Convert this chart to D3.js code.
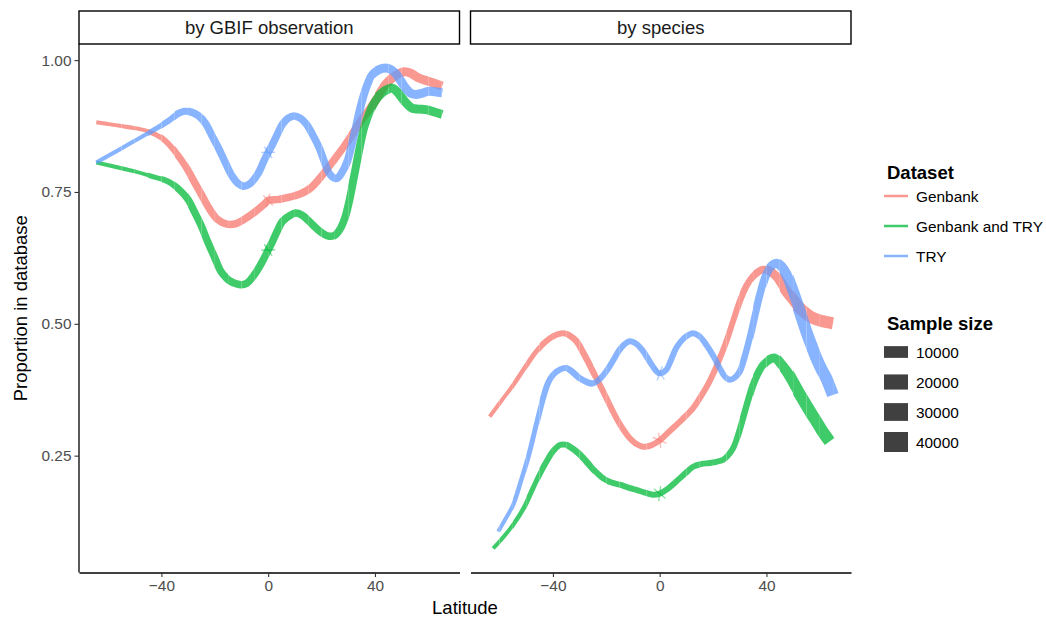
<!DOCTYPE html>
<html>
<head>
<meta charset="utf-8">
<script src="https://cdn.jsdelivr.net/npm/d3@7"></script>
<style>
  body { margin: 0; background: #fff; }
  svg { display: block; font-family: "Liberation Sans", Arial, Helvetica, sans-serif; }
</style>
</head>
<body>
<div id="chart"></div>
<script>
const W = 1046, H = 619;

const panelNames = ["by GBIF observation", "by species"];
const datasets = ["Genbank", "Genbank and TRY", "TRY"];
const colors = ["#F8766D", "#00BA38", "#619CFF"];
const xTicks = [-40, 0, 40];
const yTicks = [0.25, 0.50, 0.75, 1.00];
const sizeBreaks = [10000, 20000, 30000, 40000];

// sample size per 5 degree latitude band (band start)
const binStart = [-70, -65, -60, -55, -50, -45, -40, -35, -30, -25, -20, -15, -10, -5,
                  0, 5, 10, 15, 20, 25, 30, 35, 40, 45, 50, 55, 60, 65];
const gbifN = [50, 50, 50, 50, 40, 330, 900, 1800, 2350, 2350, 2350, 2350, 2350, 2350,
               2350, 2350, 2350, 2350, 2350, 2350, 2975, 2975, 4400, 4400, 4400, 4400, 4400, 4400];
const speciesN = [40, 40, 40, 150, 330, 900, 900, 1300, 1300, 900, 900, 900, 900, 900,
                  900, 900, 900, 900, 900, 900, 1300, 2350, 4400, 7200, 10600, 10600, 10600, 10600];
// very large sample at latitude 0 (the small cross marks)
const spikeN = [16000, 20000];

// by GBIF observation
const gbifGenbankLat = [-64.4, -55, -45, -39, -35, -31.4, -28, -25, -22, -19, -15.5, -12, -9, -5, -1, 0, 4, 8, 12.8, 16, 19, 22, 25.3, 28.5, 31.5, 34.5, 37.8, 41, 44, 47.5, 51, 53.5, 56.4, 60, 65.2];
const gbifGenbankProp = [0.882, 0.875, 0.865, 0.849, 0.827, 0.802, 0.772, 0.745, 0.718, 0.698, 0.689, 0.690, 0.698, 0.712, 0.729, 0.734, 0.736, 0.740, 0.748, 0.758, 0.774, 0.793, 0.815, 0.837, 0.859, 0.883, 0.906, 0.930, 0.954, 0.970, 0.978, 0.975, 0.966, 0.960, 0.951];

const gbifBothLat = [-64.4, -50, -43.9, -37.6, -32.6, -30, -27.7, -25, -22.7, -20, -17.7, -15.5, -13.9, -12, -10.2, -8, -5.2, -2.5, 0, 1.6, 3.5, 5.3, 8, 10.4, 13, 16.6, 20, 22.8, 25, 27.2, 28.8, 30.3, 31.5, 32.8, 34.3, 35.9, 37.5, 39, 40.8, 42.7, 44.5, 46.5, 48.3, 50.2, 52, 53.9, 56.5, 59, 62, 65.2];
const gbifBothProp = [0.806, 0.789, 0.780, 0.770, 0.751, 0.735, 0.713, 0.685, 0.656, 0.625, 0.599, 0.586, 0.580, 0.576, 0.574, 0.577, 0.593, 0.615, 0.640, 0.656, 0.677, 0.694, 0.705, 0.710, 0.705, 0.688, 0.673, 0.666, 0.668, 0.682, 0.702, 0.732, 0.762, 0.796, 0.835, 0.871, 0.895, 0.913, 0.928, 0.938, 0.944, 0.947, 0.940, 0.928, 0.917, 0.909, 0.907, 0.906, 0.902, 0.897];

const gbifTryLat = [-64.4, -37.6, -34, -31.4, -28.5, -26, -23.5, -21, -18.5, -16, -13.5, -11, -9, -7, -4, -1.5, 0, 1.6, 3.5, 5.3, 7.5, 9.7, 12, 14.1, 16.5, 19.1, 21, 22.8, 24.5, 25.9, 27.5, 29.6, 31.2, 32.8, 34.3, 35.9, 37.5, 39, 41.5, 44, 46, 47.7, 49.5, 51.5, 53.5, 55.2, 57.5, 60.2, 62.5, 65.2];
const gbifTryProp = [0.806, 0.884, 0.898, 0.903, 0.901, 0.894, 0.880, 0.856, 0.832, 0.805, 0.780, 0.765, 0.761, 0.765, 0.783, 0.810, 0.825, 0.840, 0.860, 0.878, 0.890, 0.894, 0.890, 0.880, 0.860, 0.834, 0.808, 0.786, 0.777, 0.776, 0.786, 0.808, 0.838, 0.871, 0.905, 0.935, 0.958, 0.973, 0.982, 0.985, 0.982, 0.975, 0.962, 0.947, 0.937, 0.935, 0.937, 0.941, 0.940, 0.938];

// by species
const spGenbankLat = [-63.7, -59, -54.9, -50.5, -46.2, -43, -40, -36.2, -33.5, -31.2, -28.7, -26.2, -23.7, -21.2, -18.7, -16.2, -13.7, -11.2, -8.7, -6.2, -3, 0, 3, 6.2, 9.5, 12.5, 15.5, 18.7, 22, 25, 27.5, 30, 32.5, 34.9, 36.8, 38.7, 41.2, 43.7, 45.5, 47.4, 50, 52.4, 55, 57.4, 61, 64.9];
const spGenbankProp = [0.324, 0.356, 0.384, 0.417, 0.448, 0.465, 0.476, 0.482, 0.477, 0.467, 0.446, 0.422, 0.397, 0.372, 0.346, 0.321, 0.300, 0.283, 0.272, 0.267, 0.270, 0.279, 0.293, 0.308, 0.324, 0.340, 0.363, 0.391, 0.428, 0.467, 0.505, 0.543, 0.572, 0.590, 0.598, 0.603, 0.600, 0.590, 0.577, 0.562, 0.545, 0.530, 0.519, 0.511, 0.505, 0.501];

const spBothLat = [-62.4, -58.5, -54.9, -51, -47.5, -45, -42.4, -40, -37.5, -35.5, -33.7, -30.5, -27.5, -24.5, -21.2, -18, -15, -12, -8.7, -5.5, -2.5, 0, 3, 6.2, 9.5, 12.5, 15.5, 18.7, 21, 23.7, 25.5, 27.5, 29.4, 31.2, 33, 34.9, 36.8, 38.7, 41, 43.1, 45.3, 47.5, 49.3, 51.2, 53, 54.9, 56.8, 58.7, 61, 63.7];
const spBothProp = [0.074, 0.096, 0.119, 0.150, 0.188, 0.215, 0.239, 0.258, 0.270, 0.271, 0.267, 0.255, 0.239, 0.222, 0.207, 0.199, 0.195, 0.190, 0.185, 0.180, 0.176, 0.178, 0.187, 0.201, 0.216, 0.229, 0.234, 0.236, 0.238, 0.242, 0.250, 0.264, 0.290, 0.321, 0.353, 0.384, 0.406, 0.422, 0.432, 0.435, 0.424, 0.410, 0.395, 0.378, 0.362, 0.346, 0.330, 0.315, 0.296, 0.277];

const spTryLat = [-60.5, -58, -54.9, -51.8, -48.7, -46.2, -43.7, -41.8, -40, -37.5, -34.9, -32.5, -30, -27.5, -25, -22.5, -20, -17.5, -15, -13, -11.2, -8.7, -6.2, -3.7, -1.2, 0, 2.5, 4.3, 6.2, 9.4, 12.5, 15, 17.5, 20, 22.5, 24.4, 26.2, 28.1, 30, 31.8, 33.7, 35.6, 37.5, 39.4, 41.2, 43.7, 45.6, 47.5, 49.3, 51.2, 53, 54.9, 56.8, 58.7, 60.5, 62.4, 64.9];
const spTryProp = [0.106, 0.128, 0.157, 0.205, 0.258, 0.310, 0.359, 0.388, 0.403, 0.413, 0.416, 0.408, 0.397, 0.390, 0.387, 0.395, 0.410, 0.430, 0.451, 0.462, 0.467, 0.462, 0.448, 0.428, 0.410, 0.406, 0.413, 0.432, 0.454, 0.474, 0.482, 0.476, 0.460, 0.440, 0.416, 0.400, 0.394, 0.398, 0.410, 0.437, 0.473, 0.515, 0.555, 0.588, 0.606, 0.615, 0.608, 0.593, 0.570, 0.543, 0.515, 0.486, 0.460, 0.435, 0.415, 0.397, 0.365];

const panelSeries = [
  [[gbifGenbankLat, gbifGenbankProp], [gbifBothLat, gbifBothProp], [gbifTryLat, gbifTryProp]],
  [[spGenbankLat, spGenbankProp], [spBothLat, spBothProp], [spTryLat, spTryProp]]
];
const panelN = [gbifN, speciesN];

// layout
const panelX = [79, 470.5];
const panelW = 380.5;
const panelTop = 44, panelBottom = 572.5;
const panelH = panelBottom - panelTop;
const stripTop = 11;
const alpha = 0.75;

const svg = d3.select("#chart").append("svg")
    .attr("width", W)
    .attr("height", H);
svg.append("rect").attr("width", W).attr("height", H).attr("fill", "#fff");

// scales, expanded 5% like ggplot
let allLat = [], allProp = [];
for (let ps of panelSeries) for (let s of ps) { allLat = allLat.concat(s[0]); allProp = allProp.concat(s[1]); }
const latExt = d3.extent(allLat), propExt = d3.extent(allProp);
const latPad = (latExt[1] - latExt[0]) * 0.05, propPad = (propExt[1] - propExt[0]) * 0.05;

const x = d3.scaleLinear().domain([latExt[0] - latPad, latExt[1] + latPad]).range([0, panelW]);
const y = d3.scaleLinear().domain([propExt[0] - propPad, propExt[1] + propPad]).range([panelH, 0]);
const size = d3.scaleSqrt().domain([0, 40000]).range([3.5, 20]);

const line = d3.line().curve(d3.curveCatmullRom.alpha(0.5));
const defs = svg.append("defs");

panelNames.forEach(function (name, p) {
    let g = svg.append("g").attr("transform", "translate(" + panelX[p] + "," + panelTop + ")");

    // one clip band per latitude bin
    binStart.forEach(function (b, i) {
        let x0 = i == 0 ? -40 : x(b);
        let x1 = i == binStart.length - 1 ? panelW + 40 : x(binStart[i + 1]);
        defs.append("clipPath").attr("id", "clip-" + p + "-" + i)
            .append("rect")
            .attr("x", x0).attr("y", -20)
            .attr("width", x1 - x0).attr("height", panelH + 40);
    });

    panelSeries[p].forEach(function (s, k) {
        let pts = s[0].map((lat, i) => [x(lat), y(s[1][i])]);
        let sg = g.append("g").attr("opacity", alpha);
        binStart.forEach(function (b, i) {
            sg.append("path")
                .attr("d", line(pts))
                .attr("fill", "none")
                .attr("stroke", colors[k])
                .attr("stroke-width", size(panelN[p][i]))
                .attr("clip-path", "url(#clip-" + p + "-" + i + ")");
        });

        // cross marks at latitude 0
        let i0 = s[0].indexOf(0);
        if (i0 > 0) {
            let c = pts[i0], a = pts[i0 - 1], b = pts[i0 + 1];
            let theta = Math.atan2(b[1] - a[1], b[0] - a[0]);
            for (let dt of [-0.5, 0.5]) {
                let dx = Math.cos(theta + dt) * 0.7, dy = Math.sin(theta + dt) * 0.7;
                g.append("line")
                    .attr("x1", c[0] - dx).attr("y1", c[1] - dy)
                    .attr("x2", c[0] + dx).attr("y2", c[1] + dy)
                    .attr("stroke", colors[k])
                    .attr("stroke-width", size(spikeN[p]))
                    .attr("opacity", 0.45);
            }
        }
    });

    // strip
    svg.append("rect")
        .attr("x", panelX[p]).attr("y", stripTop)
        .attr("width", panelW).attr("height", panelTop - stripTop)
        .attr("fill", "#fff").attr("stroke", "#000").attr("stroke-width", 1.4);
    svg.append("text")
        .attr("x", panelX[p] + panelW / 2).attr("y", 33.5)
        .attr("text-anchor", "middle")
        .attr("font-size", "18.5px")
        .attr("fill", "#1a1a1a")
        .text(name);

    // x axis
    let xa = g.append("g").attr("transform", "translate(0," + panelH + ")")
        .call(d3.axisBottom(x).tickValues(xTicks).tickFormat(d3.format("d")).tickSize(4.5).tickSizeOuter(0).tickPadding(3));
    styleAxis(xa);

    // y axis only on the first panel
    if (p == 0) {
        let ya = g.append("g")
            .call(d3.axisLeft(y).tickValues(yTicks).tickFormat(d3.format(".2f")).tickSize(4.5).tickSizeOuter(0).tickPadding(3));
        ya.select(".domain").attr("d", "M0,0V" + panelH);
        styleAxis(ya);
    }
});

function styleAxis(a) {
    a.select(".domain").attr("stroke", "#000").attr("stroke-width", 1.3);
    a.selectAll(".tick line").attr("stroke", "#333").attr("stroke-width", 1.1);
    a.selectAll(".tick text")
        .attr("fill", "#4d4d4d")
        .attr("font-size", "15.4px")
        .attr("font-family", "'Liberation Sans', Arial, sans-serif");
}

// axis titles
svg.append("text")
    .attr("transform", "translate(27," + (panelTop + panelH / 2) + ") rotate(-90)")
    .attr("text-anchor", "middle")
    .attr("font-size", "18.5px")
    .text("Proportion in database");
svg.append("text")
    .attr("x", (panelX[0] + panelX[1] + panelW) / 2).attr("y", 614)
    .attr("text-anchor", "middle")
    .attr("font-size", "18.5px")
    .text("Latitude");

// legend: Dataset
const lg = svg.append("g");
lg.append("text").attr("x", 887).attr("y", 179)
    .attr("font-size", "18.5px").attr("font-weight", "bold").text("Dataset");
const keyY = [196, 226, 256];
datasets.forEach(function (d, i) {
    lg.append("line")
        .attr("x1", 884).attr("x2", 908)
        .attr("y1", keyY[i]).attr("y2", keyY[i])
        .attr("stroke", colors[i]).attr("stroke-width", 2.5).attr("opacity", alpha);
    lg.append("text").attr("x", 916).attr("y", keyY[i])
        .attr("dominant-baseline", "central")
        .attr("font-size", "15.4px").text(d);
});

// legend: Sample size
lg.append("text").attr("x", 887).attr("y", 330)
    .attr("font-size", "18.5px").attr("font-weight", "bold").text("Sample size");
const sizeKeyY = [352, 382, 412, 442];
sizeBreaks.forEach(function (n, i) {
    let h = size(n);
    lg.append("rect")
        .attr("x", 884).attr("y", sizeKeyY[i] - h / 2)
        .attr("width", 24).attr("height", h)
        .attr("fill", "#000").attr("opacity", alpha);
    lg.append("text").attr("x", 916).attr("y", sizeKeyY[i])
        .attr("dominant-baseline", "central")
        .attr("font-size", "15.4px").text(n);
});
</script>
</body>
</html>
